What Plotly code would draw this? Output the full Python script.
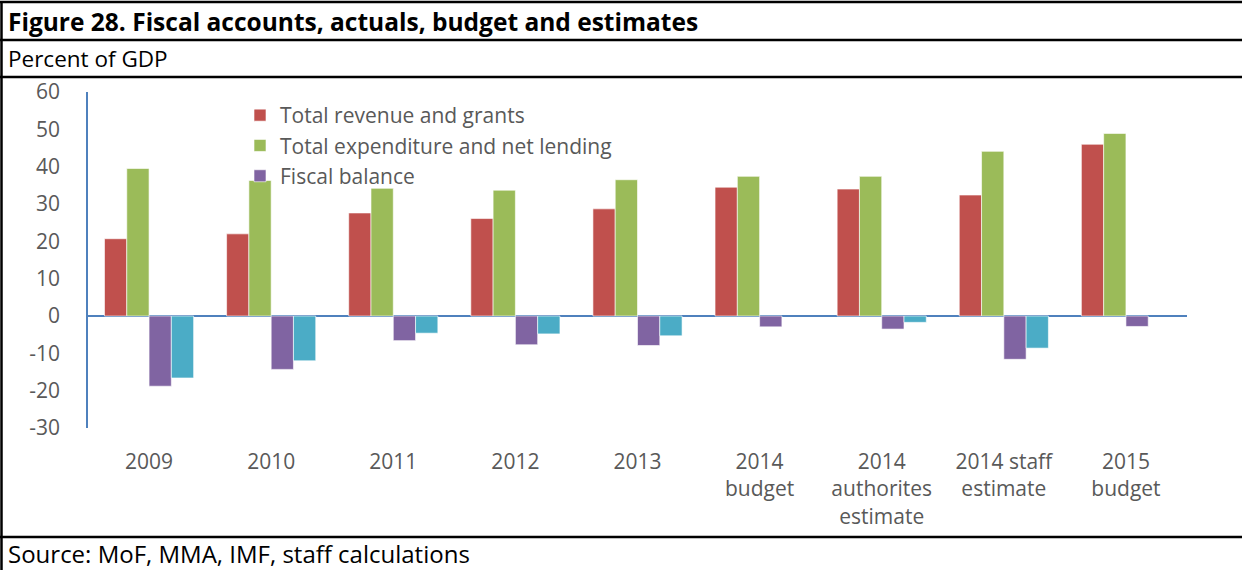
import plotly.graph_objects as go

# data (percent of GDP)
categories = ["2009", "2010", "2011", "2012", "2013",
              "2014<br>budget", "2014<br>authorites<br>estimate",
              "2014 staff<br>estimate", "2015<br>budget"]
revenue = [20.7, 22.0, 27.6, 26.1, 28.7, 34.5, 34.0, 32.4, 46.0]
expenditure = [39.5, 36.3, 34.2, 33.7, 36.5, 37.4, 37.4, 44.1, 48.9]
fiscal_balance = [-18.8, -14.3, -6.6, -7.7, -7.9, -2.9, -3.5, -11.6, -2.8]
balance_excl = [-16.6, -12.0, -4.6, -4.8, -5.3, None, -1.7, -8.6, None]
y_ticks = [-30, -20, -10, 0, 10, 20, 30, 40, 50, 60]
y_labels = ["-30", "-20", "-10", "0", "10", "20", "30", "40", "50", "60"]

W, H = 1242, 570
L, R, T, B = 88, 1187, 92, 428
FONT = "Open Sans"
GREY = "#595959"
AXIS = "#4F81BD"


def px(x):
    return (x - L) / (R - L)


def py(y):
    return (B - y) / (B - T)


fig = go.Figure()
series = [
    ("Total revenue and grants", revenue, "#C0504D", True),
    ("Total expenditure and net lending", expenditure, "#9BBB59", True),
    ("Fiscal balance", fiscal_balance, "#8064A2", True),
    ("Fiscal balance excl. grants", balance_excl, "#4BACC6", False),
]
for name, vals, col, leg in series:
    fig.add_trace(go.Bar(x=categories, y=vals, name=name, showlegend=leg,
                         marker=dict(color=col, line=dict(color="rgba(255,255,255,0.6)", width=1))))

fig.update_layout(
    width=W, height=H,
    margin=dict(l=L, r=W - R, t=T, b=H - B),
    paper_bgcolor="white", plot_bgcolor="white",
    barmode="group", bargap=0.27, bargroupgap=0,
    font=dict(family=FONT, size=21, color=GREY),
    showlegend=True,
    legend=dict(x=px(240), y=py(95), xanchor="left", yanchor="top",
                bgcolor="rgba(0,0,0,0)", font=dict(size=21, color=GREY),
                tracegroupgap=0, itemwidth=30),
)
fig.update_xaxes(showgrid=False, showline=False, ticks="",
                 tickfont=dict(size=21, color=GREY), ticklabelstandoff=19)
fig.update_yaxes(range=[-30, 60], tickvals=y_ticks, ticktext=y_labels, showgrid=False,
                 showline=True, linecolor=AXIS, linewidth=1.5,
                 zeroline=True, zerolinecolor=AXIS, zerolinewidth=2,
                 ticks="", tickfont=dict(size=21, color=GREY), ticklabelstandoff=22)

# table-style frame around the figure
line = dict(color="black", width=2.5)
for yy in [2, 40, 77, 537]:
    fig.add_shape(type="line", xref="paper", yref="paper",
                  x0=px(0), x1=px(W), y0=py(yy), y1=py(yy), line=line)
fig.add_shape(type="line", xref="paper", yref="paper",
              x0=px(1.5), x1=px(1.5), y0=py(2), y1=py(H), line=line)

texts = [
    ("<b>Figure 28. Fiscal accounts, actuals, budget and estimates</b>", 21, 24.5),
    ("Percent of GDP", 59, 22.5),
    ("Source: MoF, MMA, IMF, staff calculations", 553, 24),
]
for txt, yy, size in texts:
    fig.add_annotation(text=txt, xref="paper", yref="paper", x=px(6), y=py(yy),
                       xanchor="left", yanchor="middle", showarrow=False,
                       font=dict(family=FONT, size=size, color="black"))

fig.write_html("out.html", config={"displayModeBar": False},
               post_script="document.body.style.margin='0';")
